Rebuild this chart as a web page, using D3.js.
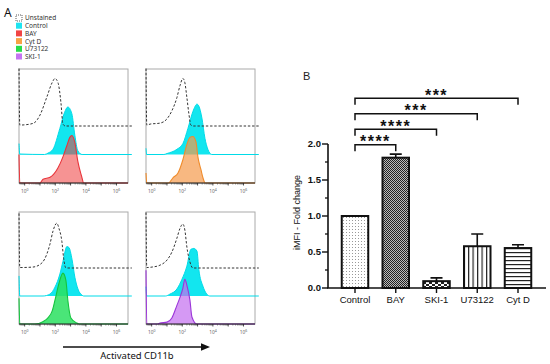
<!DOCTYPE html>
<html>
<head>
<meta charset="utf-8">
<script src="https://cdn.jsdelivr.net/npm/d3@7"></script>
<style>
  body { margin: 0; background: #fff; }
  svg { display: block; }
</style>
</head>
<body>
<svg id="fig" width="550" height="364"></svg>
<script>
// ---- panel A data: histograms, [log10 intensity, % of mode]
var legend_names = ["Unstained", "Control", "BAY", "Cyt D", "U73122", "SKI-1"];
var legend_colors = ["none", "#1fe3f0", "#f04444", "#f7a244", "#27dc48", "#c574f2"];
var hist_ticks = [0, 2, 4, 6];

var unstained = [
  [[-0.37,121],[-0.32,2],[0.36,4],[0.68,8],[1.0,23],[1.46,62],[1.79,91],[1.98,100],[2.18,91],[2.37,49],[2.5,4],[2.65,0],[7.0,0]],
  [[-0.37,121],[-0.32,2],[-0.1,4],[0.54,6],[1.0,15],[1.32,32],[1.65,60],[1.85,85],[2.04,100],[2.17,91],[2.3,60],[2.43,26],[2.56,2],[2.7,0],[7.0,0]],
  [[-0.37,117],[-0.32,1],[0.54,2],[1.13,11],[1.45,30],[1.65,51],[1.85,79],[2.1,96],[2.24,85],[2.43,57],[2.55,20],[2.7,0],[7.0,0]],
  [[-0.37,119],[-0.32,1],[0.02,2],[0.54,6],[1.0,17],[1.32,34],[1.65,64],[1.85,85],[2.04,94],[2.17,81],[2.3,45],[2.5,13],[2.69,0],[7.0,0]]
];
var control = [
  [[-0.37,23],[-0.32,1],[1.3,0],[1.53,3],[1.85,11],[2.3,55],[2.6,88],[2.82,100],[3.08,86],[3.28,40],[3.47,8],[3.75,0],[7.0,0]],
  [[-0.37,13],[-0.32,0],[0.8,0],[1.0,2],[1.65,11],[2.04,23],[2.37,55],[2.7,91],[2.96,106],[3.08,102],[3.28,77],[3.48,34],[3.67,11],[3.93,0],[7.0,0]],
  [[-0.37,43],[-0.32,0],[1.2,0],[1.65,4],[1.98,19],[2.3,47],[2.5,74],[2.76,106],[2.89,104],[3.09,79],[3.28,40],[3.48,15],[3.74,2],[3.85,0],[7.0,0]],
  [[-0.37,20],[-0.32,0],[0.9,0],[1.19,4],[1.65,15],[1.98,36],[2.3,64],[2.56,100],[2.76,102],[2.96,96],[3.08,57],[3.35,21],[3.6,4],[3.8,0],[7.0,0]]
];
var treated = [
  [[-0.37,60],[-0.32,0],[1.0,0],[1.2,8],[1.66,12],[2.18,32],[2.5,55],[2.76,79],[2.95,96],[3.08,100],[3.28,85],[3.47,46],[3.73,13],[3.85,0],[6.75,0]],
  [[-0.37,21],[-0.32,0],[1.1,0],[1.39,11],[1.72,21],[2.04,49],[2.3,81],[2.5,96],[2.69,98],[2.89,87],[3.02,55],[3.22,28],[3.35,11],[3.5,0],[6.75,0]],
  [[-0.37,55],[-0.32,0],[0.67,0],[1.19,5],[1.52,13],[1.8,28],[1.98,51],[2.24,87],[2.5,109],[2.69,94],[2.82,51],[3.02,13],[3.41,2],[3.55,0],[6.75,0]],
  [[-0.37,115],[-0.32,0],[0.4,0],[0.54,2],[1.0,4],[1.32,13],[1.65,40],[1.85,57],[2.04,77],[2.17,96],[2.3,83],[2.5,51],[2.63,15],[2.95,0],[6.75,0]]
];
var treated_names = ["BAY", "Cyt D", "U73122", "SKI-1"];

// ---- panel B data
var bar_cats = ["Control", "BAY", "SKI-1", "U73122", "Cyt D"];
var bar_means = [1.0, 1.81, 0.095, 0.58, 0.555];
var bar_errs = [0, 0.05, 0.045, 0.17, 0.045];
var bar_patterns = ["pat-dots", "pat-check", "pat-brick", "pat-vert", "pat-horiz"];
var y_ticks = [0, 0.5, 1.0, 1.5, 2.0];
var sig_from = ["Control", "Control", "Control", "Control"];
var sig_to = ["BAY", "SKI-1", "U73122", "Cyt D"];
var sig_stars = ["****", "****", "***", "***"];

var svg = d3.select("#fig");
var defs = svg.append("defs");

// ---------- patterns for bars
var p = defs.append("pattern").attr("id", "pat-dots").attr("patternUnits", "userSpaceOnUse")
    .attr("width", 3).attr("height", 3);
p.append("rect").attr("width", 3).attr("height", 3).attr("fill", "#fff");
p.append("rect").attr("x", 1).attr("y", 1).attr("width", 1).attr("height", 1).attr("fill", "#999");

p = defs.append("pattern").attr("id", "pat-check").attr("patternUnits", "userSpaceOnUse")
    .attr("width", 2).attr("height", 2);
p.append("rect").attr("width", 2).attr("height", 2).attr("fill", "#bbb");
p.append("rect").attr("width", 1).attr("height", 1).attr("fill", "#222");
p.append("rect").attr("x", 1).attr("y", 1).attr("width", 1).attr("height", 1).attr("fill", "#222");

p = defs.append("pattern").attr("id", "pat-brick").attr("patternUnits", "userSpaceOnUse")
    .attr("width", 6).attr("height", 4);
p.append("rect").attr("width", 6).attr("height", 4).attr("fill", "#fff");
p.append("rect").attr("width", 3).attr("height", 2).attr("fill", "#222");
p.append("rect").attr("x", 3).attr("y", 2).attr("width", 3).attr("height", 2).attr("fill", "#222");

p = defs.append("pattern").attr("id", "pat-vert").attr("patternUnits", "userSpaceOnUse")
    .attr("width", 4.5).attr("height", 4);
p.append("rect").attr("width", 4.5).attr("height", 4).attr("fill", "#fff");
p.append("rect").attr("width", 1.2).attr("height", 4).attr("fill", "#222");

p = defs.append("pattern").attr("id", "pat-horiz").attr("patternUnits", "userSpaceOnUse")
    .attr("width", 4).attr("height", 4);
p.append("rect").attr("width", 4).attr("height", 4).attr("fill", "#fff");
p.append("rect").attr("width", 4).attr("height", 1.2).attr("fill", "#222");

// ---------- panel A
var fontA = "'Noto Sans', 'Open Sans', sans-serif";

svg.append("text").attr("x", 4).attr("y", 17)
    .attr("font-family", fontA).attr("font-size", 12).attr("fill", "#111").text("A");

var leg = svg.append("g").selectAll("g").data(legend_names).enter().append("g")
    .attr("transform", function(d, i) { return "translate(16," + (15 + i * 7.7) + ")"; });
leg.append("rect")
    .attr("width", 6).attr("height", 6)
    .attr("fill", function(d, i) { return legend_colors[i]; })
    .attr("stroke", function(d, i) { return i == 0 ? "#333" : "none"; })
    .attr("stroke-width", 0.8)
    .attr("stroke-dasharray", "1,1");
leg.append("text")
    .attr("x", 9).attr("y", 5.4)
    .attr("font-family", fontA).attr("font-size", 6.5).attr("fill", "#333")
    .text(function(d) { return d; });

var panels = [
  {x: 19, y: 69, w: 109, h: 114},
  {x: 146, y: 69, w: 109, h: 114},
  {x: 19, y: 212, w: 109, h: 112},
  {x: 146, y: 212, w: 109, h: 112}
];
var strokes = ["#e8343a", "#f08c2c", "#14c43e", "#9b36d8"];
var fills = ["#ee3b3b", "#f59a4c", "#2ae060", "#c36ef0"];
var fill_op = [0.55, 0.7, 0.85, 0.7];

panels.forEach(function(pn, k) {
    var g = svg.append("g");
    var x = d3.scaleLinear().domain([-0.37, 6.75]).range([pn.x, pn.x + pn.w]);
    var y = d3.scaleLinear().domain([0, 240]).range([pn.y + pn.h, pn.y]);

    // frame
    g.append("rect")
        .attr("x", pn.x).attr("y", pn.y).attr("width", pn.w).attr("height", pn.h)
        .attr("fill", "none").attr("stroke", "#aaa").attr("stroke-width", 1);

    var mk = function(off) {
        return {
            area: d3.area().curve(d3.curveMonotoneX)
                .x(function(d) { return x(d[0]); })
                .y0(y(off))
                .y1(function(d) { return y(off + d[1]); }),
            line: d3.line().curve(d3.curveMonotoneX)
                .x(function(d) { return x(d[0]); })
                .y(function(d) { return y(off + d[1]); })
        };
    };

    // control (cyan), middle track
    var c = mk(60);
    g.append("path").datum(control[k]).attr("d", c.area).attr("fill", "#12e6ef");
    g.append("path").datum(control[k]).attr("d", c.line)
        .attr("fill", "none").attr("stroke", "#00dbe8").attr("stroke-width", 1);

    // treatment, bottom track
    var t = mk(0);
    g.append("path").datum(treated[k]).attr("d", t.area)
        .attr("fill", fills[k]).attr("fill-opacity", fill_op[k]);
    g.append("path").datum(treated[k]).attr("d", t.line)
        .attr("fill", "none").attr("stroke", strokes[k]).attr("stroke-width", 1.1);

    // unstained, top track, dashed
    var u = mk(120);
    g.append("path").datum(unstained[k]).attr("d", u.line)
        .attr("fill", "none").attr("stroke", "#333").attr("stroke-width", 1)
        .attr("stroke-dasharray", "2.4,1.8");

    // bottom axis
    var yb = pn.y + pn.h;
    g.append("line").attr("x1", pn.x).attr("x2", pn.x + pn.w).attr("y1", yb).attr("y2", yb)
        .attr("stroke", "#222").attr("stroke-width", 1);
    var minor = [];
    d3.range(0, 7).forEach(function(dec) {
        d3.range(2, 10).forEach(function(m) {
            var v = dec - 1 + Math.log10(m);
            if (v > -0.37 && v < 6.75) minor.push(v);
        });
    });
    g.selectAll(".mn").data(minor).enter().append("line")
        .attr("x1", function(d) { return x(d); }).attr("x2", function(d) { return x(d); })
        .attr("y1", yb).attr("y2", yb + 1.5)
        .attr("stroke", "#444").attr("stroke-width", 0.6);
    g.selectAll(".mj").data(d3.range(0, 7)).enter().append("line")
        .attr("x1", function(d) { return x(d); }).attr("x2", function(d) { return x(d); })
        .attr("y1", yb).attr("y2", yb + 2.5)
        .attr("stroke", "#222").attr("stroke-width", 0.8);
    var tl = g.selectAll(".tl").data(hist_ticks).enter().append("text")
        .attr("x", function(d) { return x(d); })
        .attr("y", yb + 10)
        .attr("text-anchor", "middle")
        .attr("font-family", fontA).attr("font-size", 4.8).attr("fill", "#666");
    tl.append("tspan").text("10");
    tl.append("tspan").attr("dy", -2).attr("font-size", 3.5)
        .text(function(d) { return d; });
});

// arrow + axis title
svg.append("line").attr("x1", 63).attr("x2", 202).attr("y1", 347).attr("y2", 347)
    .attr("stroke", "#111").attr("stroke-width", 1.3);
svg.append("path").attr("d", "M201,343.3 L210,347 L201,350.7 Z").attr("fill", "#111");
svg.append("text").attr("x", 137).attr("y", 359)
    .attr("text-anchor", "middle")
    .attr("font-family", fontA).attr("font-size", 9.5).attr("fill", "#111")
    .text("Activated CD11b");

// ---------- panel B
var fontB = "'Liberation Sans', Arial, sans-serif";

svg.append("text").attr("x", 303).attr("y", 80)
    .attr("font-family", fontB).attr("font-size", 11).attr("fill", "#222").text("B");

var yB = d3.scaleLinear().domain([0, 2.0]).range([288, 144]);
var xB = d3.scalePoint().domain(bar_cats).range([355, 518]);
var bw = 26.5;

var chart = svg.append("g");

// y axis
chart.append("line").attr("x1", 328).attr("x2", 328).attr("y1", yB(0)).attr("y2", yB(2.0))
    .attr("stroke", "#111").attr("stroke-width", 1.6);
var minorB = d3.range(0.25, 2.0, 0.5);
chart.selectAll(".ymn").data(minorB).enter().append("line")
    .attr("x1", 325).attr("x2", 328)
    .attr("y1", function(d) { return yB(d); }).attr("y2", function(d) { return yB(d); })
    .attr("stroke", "#111").attr("stroke-width", 1.3);
chart.selectAll(".ymj").data(y_ticks).enter().append("line")
    .attr("x1", 322).attr("x2", 328)
    .attr("y1", function(d) { return yB(d); }).attr("y2", function(d) { return yB(d); })
    .attr("stroke", "#111").attr("stroke-width", 1.4);
chart.selectAll(".ytl").data(y_ticks).enter().append("text")
    .attr("x", 321).attr("y", function(d) { return yB(d) + 3.4; })
    .attr("text-anchor", "end")
    .attr("font-family", fontB).attr("font-size", 9.5).attr("font-weight", "bold").attr("fill", "#111")
    .text(function(d) { return d3.format(".1f")(d); });

chart.append("text")
    .attr("transform", "translate(300," + yB(1.05) + ") rotate(-90)")
    .attr("text-anchor", "middle")
    .attr("font-family", fontB).attr("font-size", 9).attr("fill", "#111")
    .text("iMFI - Fold change");

// x axis
chart.append("line").attr("x1", 327).attr("x2", 546).attr("y1", yB(0)).attr("y2", yB(0))
    .attr("stroke", "#111").attr("stroke-width", 1.6);
chart.selectAll(".xt").data(bar_cats).enter().append("line")
    .attr("x1", function(d) { return xB(d); }).attr("x2", function(d) { return xB(d); })
    .attr("y1", yB(0)).attr("y2", yB(0) + 5)
    .attr("stroke", "#111").attr("stroke-width", 1.4);
chart.selectAll(".xtl").data(bar_cats).enter().append("text")
    .attr("x", function(d) { return xB(d); }).attr("y", 303)
    .attr("text-anchor", "middle")
    .attr("font-family", fontB).attr("font-size", 9.5).attr("fill", "#111")
    .text(function(d) { return d; });

// error bars (upper only)
chart.selectAll(".eb").data(bar_cats).enter().append("path")
    .attr("d", function(d, i) {
        if (!bar_errs[i]) return null;
        var cx = xB(d), top = yB(bar_means[i] + bar_errs[i]);
        return "M" + cx + "," + yB(bar_means[i]) + "V" + top +
               "M" + (cx - 6) + "," + top + "H" + (cx + 6);
    })
    .attr("fill", "none").attr("stroke", "#111").attr("stroke-width", 1.6);

// bars
chart.selectAll(".bar").data(bar_cats).enter().append("rect")
    .attr("x", function(d) { return xB(d) - bw / 2; })
    .attr("y", function(d, i) { return yB(bar_means[i]); })
    .attr("width", bw)
    .attr("height", function(d, i) { return yB(0) - yB(bar_means[i]); })
    .attr("fill", function(d, i) { return "url(#" + bar_patterns[i] + ")"; })
    .attr("stroke", "#111").attr("stroke-width", 2);

// significance brackets
var sig = chart.selectAll(".sig").data(sig_to).enter().append("g");
var level = function(i) { return yB(1.99 + i * 0.215); };
sig.append("path")
    .attr("d", function(d, i) {
        var a = xB(sig_from[i]), b = xB(d), l = level(i);
        return "M" + a + "," + (l + 6.5) + "V" + l + "H" + b + "V" + (l + 6.5);
    })
    .attr("fill", "none").attr("stroke", "#111").attr("stroke-width", 1.5);
sig.append("text")
    .attr("x", function(d, i) { return (xB(sig_from[i]) + xB(d)) / 2; })
    .attr("y", function(d, i) { return level(i) + 2.5; })
    .attr("text-anchor", "middle")
    .attr("font-family", fontB).attr("font-size", 16).attr("font-weight", "bold")
    .attr("letter-spacing", 1.5).attr("fill", "#111")
    .text(function(d, i) { return sig_stars[i]; });
</script>
</body>
</html>
